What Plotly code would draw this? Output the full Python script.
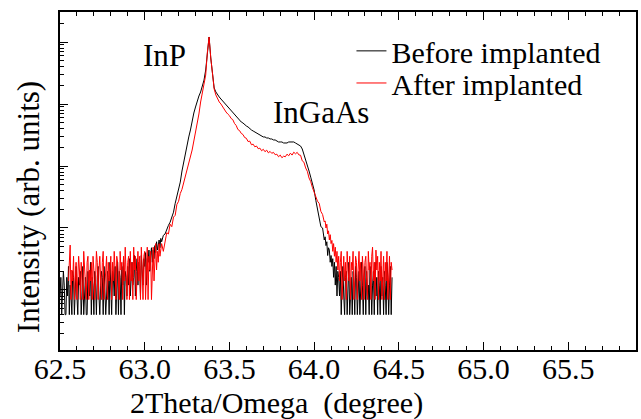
import plotly.graph_objects as go

# ---------------- data ----------------
# Each curve is stored in three scan segments: a fine-step low-angle tail,
# the main peak region, and a fine-step high-angle tail.
fine_step = 0.005
main_step = 0.01

black_tail_low_start = 62.500
black_tail_low = [
    0.8, 1.6, 0.4, 1.2, 2.0, 1.2, 0.4, 0.4, 1.6, 0.8,
    2.4, 0.4, 1.2, 0.8, 0.4, 2.0, 1.6, 0.4, 1.2, 2.4,
    0.8, 0.4, 1.6, 1.2, 2.0, 0.4, 0.8, 2.4, 0.4, 1.2,
    1.6, 0.4, 0.4, 2.0, 1.2, 0.8, 2.8, 0.4, 1.6, 1.2,
    0.4, 2.0, 1.2, 0.4, 1.6, 2.4, 0.8, 0.4, 1.2, 2.0,
    1.6, 0.4, 2.4, 1.2, 0.4, 0.8, 2.0, 1.6, 0.4, 2.8,
    1.2, 0.4, 2.0, 1.6, 0.8, 2.4, 0.4, 1.2, 2.8, 0.4,
    2.0, 1.6, 0.4, 2.4, 1.2, 3.2, 0.4, 2.0, 1.6, 0.8,
    2.4, 1.2, 3.2, 0.8, 2.0, 2.8, 1.2, 1.6, 3.6, 0.8,
    2.0, 3.2, 1.2, 2.8, 2.4, 0.8, 3.6, 2.0, 1.2, 3.2,
    2.4, 4.0, 1.2, 3.2, 2.8, 4.4, 2.0, 3.6, 4.8, 2.8,
    4.4, 3.2, 5.2, 4.0, 6.0, 4.4, 5.6, 6.4, 4.8, 6.8,
]
black_main_start = 63.10
black_main = [
    6.0, 7.6, 8.0, 9.6, 11, 12.4, 15, 18, 25, 33,
    41, 55, 83, 116, 156, 218, 294, 381, 552, 716,
    895, 1118, 1346, 1562, 1880, 2430, 3535, 6900, 12050, 5520,
    2937, 1811, 1562, 1397, 1297, 1204, 1118, 1038, 963, 895,
    831, 771, 716, 665, 617, 573, 532, 512, 494, 459,
    442, 426, 395, 381, 367, 354, 341, 328, 316, 305,
    294, 294, 283, 283, 273, 273, 263, 263, 253, 244,
    244, 244, 235, 235, 235, 244, 244, 244, 244, 235,
    226, 218, 210, 188, 156, 125, 100, 83, 66, 53,
    41, 28, 19.5, 15.5, 10.5, 10,
]
black_tail_high_start = 64.055
black_tail_high = [
    8.0, 6.4, 7.2, 5.2, 6.0, 3.6, 4.8, 4.4, 2.8, 3.6,
    2.4, 3.2, 1.6, 2.8, 1.2, 2.4, 0.8, 2.0, 1.6, 0.8,
    2.0, 0.4, 1.2, 2.4, 0.8, 0.4, 1.6, 2.0, 0.4, 1.2,
    2.8, 0.4, 0.8, 1.6, 0.4, 2.0, 1.2, 0.4, 2.4, 1.6,
    0.4, 1.2, 2.0, 0.4, 0.8, 2.8, 1.2, 0.4, 1.6, 2.4,
    0.4, 2.0, 0.8, 1.2, 0.4, 2.4, 1.6, 0.4, 1.2, 2.0,
    0.4, 2.8, 0.8, 1.6, 0.4, 2.0, 1.2, 0.4, 2.4, 0.8,
    1.6, 0.4, 2.0, 1.2, 0.4, 2.8, 1.6, 0.4, 1.2, 2.4,
    0.4, 1.6,
]

red_tail_low_start = 62.550
red_tail_low = [
    1.4, 2.8, 5.3, 0.7, 2.1, 1.4, 3.5, 0.7, 2.1, 2.8,
    0.7, 1.4, 3.5, 2.1, 0.7, 2.8, 1.4, 0.7, 4.2, 2.1,
    1.4, 0.7, 2.8, 3.5, 0.7, 2.1, 1.4, 2.8, 0.7, 3.5,
    2.1, 0.7, 1.4, 4.2, 2.8, 0.7, 2.1, 3.5, 1.4, 0.7,
    2.8, 4.2, 0.7, 1.4, 2.1, 3.5, 0.7, 2.8, 1.4, 2.1,
    3.5, 0.7, 2.8, 1.4, 4.2, 2.1, 0.7, 3.5, 2.8, 1.4,
    0.7, 4.2, 2.1, 2.8, 0.7, 3.5, 1.4, 4.9, 2.1, 0.7,
    2.8, 3.5, 0.7, 4.2, 1.4, 2.8, 0.7, 4.9, 2.1, 3.5,
    0.7, 2.8, 4.2, 1.4, 3.5, 0.7, 4.9, 2.1, 0.7, 3.5,
    4.2, 0.7, 2.8, 4.9, 0.7, 3.5, 2.1, 4.2, 0.7, 2.8,
    4.9, 1.4, 3.5, 5.6, 2.1, 4.2, 2.8, 5.6, 3.5, 4.9,
]
red_main_start = 63.10
red_main = [
    5.6, 4.2, 6.3, 8.4, 8.0, 11.5, 10.5, 15, 16, 24,
    27, 36, 42, 53, 69, 89, 116, 145, 181, 253,
    354, 442, 690, 1077, 1504, 2100, 2937, 6900, 12050, 5520,
    2840, 1745, 1397, 1204, 1077, 1000, 895, 800, 743, 690,
    650, 585, 560, 486, 450, 388, 372, 335, 322, 288,
    280, 248, 252, 220, 225, 204, 210, 190, 194, 176,
    186, 170, 180, 163, 172, 160, 166, 152, 155, 141,
    150, 136, 144, 141, 155, 146, 161, 150, 167, 157,
    166, 151, 149, 121, 115, 93, 82, 64, 56, 45,
    38, 33, 27, 25, 18.5, 16.5,
]
red_tail_high_start = 64.055
red_tail_high = [
    14, 12.5, 13, 10, 11.5, 8.0, 9.0, 6.4, 7.8, 5.6,
    6.3, 4.2, 5.6, 3.5, 4.9, 2.8, 4.2, 2.1, 3.5, 1.4,
    2.8, 4.2, 0.7, 2.1, 3.5, 1.4, 2.8, 0.7, 4.2, 2.1,
    1.4, 3.5, 0.7, 2.8, 2.1, 4.2, 0.7, 1.4, 3.5, 2.8,
    0.7, 2.1, 4.2, 1.4, 2.8, 0.7, 3.5, 2.1, 0.7, 2.8,
    3.5, 1.4, 0.7, 4.2, 2.1, 2.8, 0.7, 3.5, 4.9, 1.4,
    2.8, 0.7, 4.4, 2.1, 3.5, 0.7, 2.8, 1.4, 4.2, 0.7,
    2.1, 3.5, 0.7, 2.8, 1.4, 4.2, 0.7, 2.1, 3.5, 0.7,
    2.8, 2.1,
]

series_names = ["Before implanted", "After implanted"]
x_tick_values = [62.5, 63.0, 63.5, 64.0, 64.5, 65.0, 65.5]
x_tick_labels = ["62.5", "63.0", "63.5", "64.0", "64.5", "65.0", "65.5"]


def scan_angles(start, step, values):
    return [round(start + step * i, 3) for i in range(len(values))]


def assemble(segments):
    xs, ys = [], []
    for start, step, values in segments:
        xs += scan_angles(start, step, values)
        ys += values
    return xs, ys


two_theta_black, intensity_black = assemble([
    (black_tail_low_start, fine_step, black_tail_low),
    (black_main_start, main_step, black_main),
    (black_tail_high_start, fine_step, black_tail_high),
])
two_theta_red, intensity_red = assemble([
    (red_tail_low_start, fine_step, red_tail_low),
    (red_main_start, main_step, red_main),
    (red_tail_high_start, fine_step, red_tail_high),
])

FONT = "Liberation Serif"

fig = go.Figure()
fig.add_trace(go.Scatter(x=two_theta_black, y=intensity_black, mode="lines",
                         line=dict(color="black", width=1), name=series_names[0],
                         legend="legend"))
fig.add_trace(go.Scatter(x=two_theta_red, y=intensity_red, mode="lines",
                         line=dict(color="#ff0000", width=1), name=series_names[1],
                         legend="legend2"))

fig.update_layout(
    width=641, height=419,
    margin=dict(l=60, r=3, t=12, b=69),
    paper_bgcolor="white", plot_bgcolor="white",
    font=dict(family=FONT, size=30, color="black"),
    showlegend=True,
    legend=dict(x=0.506, y=0.885, xanchor="left", yanchor="middle",
                bgcolor="rgba(0,0,0,0)", borderwidth=0, font=dict(size=30)),
    legend2=dict(x=0.506, y=0.790, xanchor="left", yanchor="middle",
                 bgcolor="rgba(0,0,0,0)", borderwidth=0, font=dict(size=30)),
)

fig.update_xaxes(
    range=[62.5, 65.9], tickmode="array", tickvals=x_tick_values, ticktext=x_tick_labels,
    ticks="inside", ticklen=8, tickwidth=1, tickcolor="black", ticklabelstandoff=-9,
    ticklabeloverflow="allow",
    minor=dict(dtick=0.1, tick0=62.5, ticks="inside", ticklen=4, tickcolor="black", showgrid=False),
    showline=True, linecolor="black", linewidth=1.5, mirror="allticks",
    showgrid=False, zeroline=False, tickfont=dict(size=30),
)
fig.update_yaxes(
    type="log", range=[-0.968, 4.484], dtick=1,
    ticks="inside", ticklen=8, tickwidth=1, tickcolor="black", showticklabels=False,
    minor=dict(ticks="inside", ticklen=4, tickcolor="black", showgrid=False),
    showline=True, linecolor="black", linewidth=1.5, mirror=True,
    showgrid=False, zeroline=False,
)

fig.add_annotation(x=63.117, y=3.785, xref="x", yref="y", text="InP", showarrow=False,
                   font=dict(size=31))
fig.add_annotation(x=64.04, y=2.86, xref="x", yref="y", text="InGaAs", showarrow=False,
                   font=dict(size=31))
fig.add_annotation(x=0.3754, y=-0.158, xref="paper", yref="paper",
                   text="2Theta/Omega\u00a0 (degree)", showarrow=False,
                   xanchor="center", yanchor="middle", font=dict(size=30))
fig.add_annotation(x=-0.0554, y=0.423, xref="paper", yref="paper",
                   text="Intensity (arb. units)", showarrow=False, textangle=-90,
                   xanchor="center", yanchor="middle", font=dict(size=31))

fig.write_html("out.html", config={"displayModeBar": False},
               post_script="document.body.style.margin='0px';")
